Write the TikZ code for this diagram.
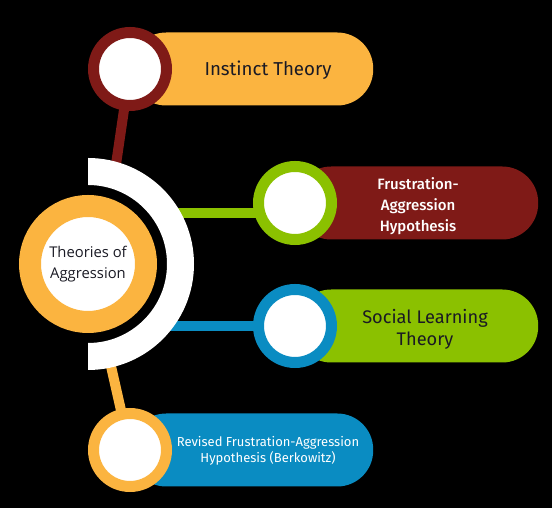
\documentclass[tikz,border=0pt]{standalone}
\usepackage{fontspec}
\usepackage{tikz}
\usetikzlibrary{positioning}
\newfontfamily\firafont{Fira Sans}
\newfontfamily\firamedfont{Fira Sans Medium}
\newfontfamily\opensansfont{Open Sans}

\definecolor{aggOrange}{HTML}{FBB440}
\definecolor{aggRed}{HTML}{7F1A17}
\definecolor{aggGreen}{HTML}{8BC100}
\definecolor{aggBlue}{HTML}{0A8CC2}
\definecolor{aggInk}{HTML}{1A1A24}

\tikzset{
  ringnode/.style={circle, draw=#1, line width=11pt, fill=white, minimum size=73pt, inner sep=0pt},
  pillbar/.style={rectangle, fill=#1, rounded corners=36pt, minimum width=243pt, minimum height=73pt, anchor=west, inner sep=0pt},
  linkline/.style={draw=#1, line width=10pt},
  itemtext/.style 2 args={font=\firafont\fontsize{#1}{#2}\selectfont, align=center}
}

\begin{document}
\begin{tikzpicture}[x=1pt, y=1pt]
  % fondo nero, fissa anche la cornice
  \fill[black] (0,0) rectangle (552,508);
  \useasboundingbox (0,0) rectangle (552,508);

  % centri dei cerchi
  \coordinate (hub) at (88,244);
  \coordinate (instP) at (130,439);
  \coordinate (frusP) at (295,305);
  \coordinate (socP) at (295,182);
  \coordinate (revP) at (130,58);

  % punti di attacco nascosti dietro l'arco bianco
  \coordinate (instA) at (114,330);
  \coordinate (frusA) at (160,295);
  \coordinate (socA) at (160,182);
  \coordinate (revA) at (108,155);

  % connettori
  \draw[linkline=aggRed] (instA) -- (instP);
  \draw[linkline=aggGreen] (frusA) -- (frusA -| frusP);
  \draw[linkline=aggBlue] (socA) -- (socP);
  \draw[linkline=aggOrange] (revA) -- (revP);

  % arco bianco a mezzaluna
  \fill[white] (hub) ++(0,106) arc[start angle=90, end angle=-90, radius=106]
    -- ++(0,27) arc[start angle=-90, end angle=90, radius=79] -- cycle;

  % nodo centrale
  \node[circle, draw=aggOrange, line width=22pt, fill=white, minimum size=116pt,
        font=\opensansfont\fontsize{14.8}{21}\selectfont, text=aggInk, align=center] (hubnode) at (hub)
        {Theories of\\Aggression};

  % barre
  \node[pillbar=aggOrange] (instBar) at (instP) {};
  \node[pillbar=aggRed] (frusBar) at (frusP) {};
  \node[pillbar=aggGreen] (socBar) at (socP) {};
  \node[pillbar=aggBlue] (revBar) at (revP) {};

  % anelli
  \node[ringnode=aggRed] (instRing) at (instP) {};
  \node[ringnode=aggGreen] (frusRing) at (frusP) {};
  \node[ringnode=aggBlue] (socRing) at (socP) {};
  \node[ringnode=aggOrange] (revRing) at (revP) {};

  % etichette
  \node[itemtext={18.7}{22}, text=aggInk] (instText) at (268,438) {Instinct Theory};
  \node[itemtext={15}{21}, font=\firamedfont\fontsize{15}{21}\selectfont, text=white] (frusText) at (418,302) {Frustration-\\Aggression\\Hypothesis};
  \node[itemtext={18.2}{22}, text=aggInk] (socText) at (425,179) {Social Learning\\Theory};
  \node[itemtext={13}{16}, text=white] (revText) at (268,57) {Revised Frustration-Aggression\\Hypothesis (Berkowitz)};
\end{tikzpicture}
\end{document}
